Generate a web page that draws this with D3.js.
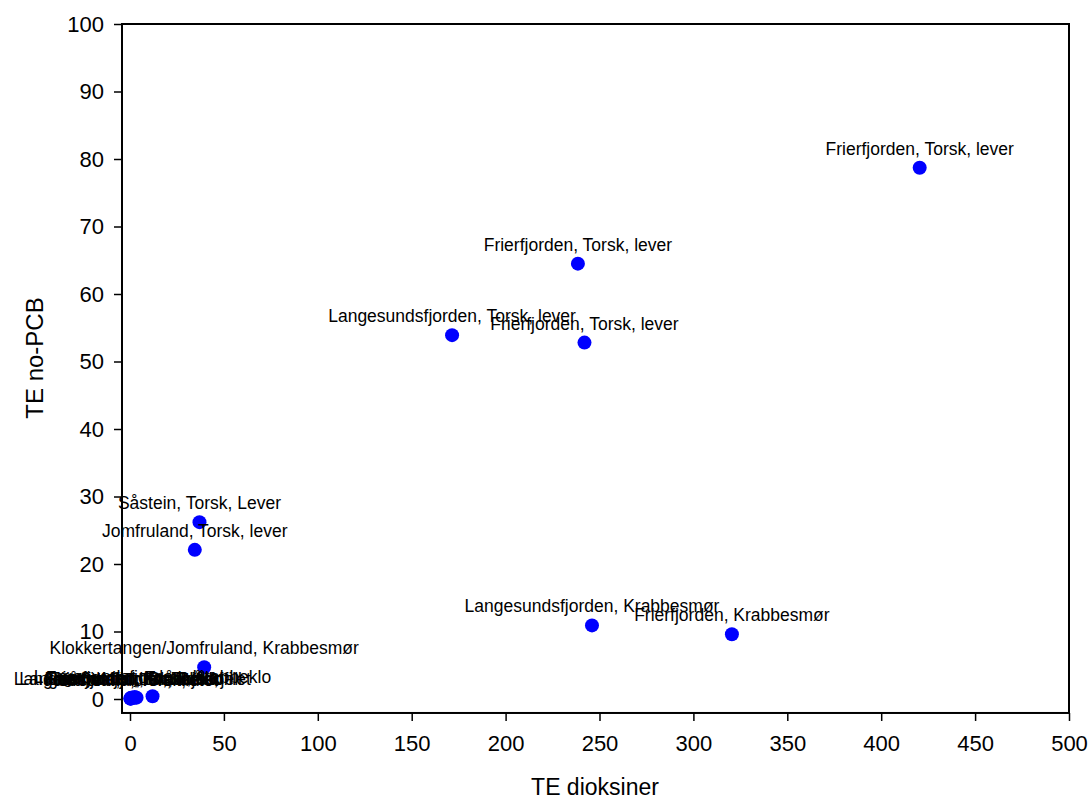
<!DOCTYPE html>
<html lang="no">
<head>
    <meta charset="UTF-8">
    <script src="https://d3js.org/d3.v7.min.js"></script>
    <style>
        body { margin: 0; background: #fff; }
        text { font-family: "Liberation Sans", Arial, sans-serif; fill: #000; }
    </style>
</head>
<body>
    <svg width="1089" height="800" id="scatter-plot"></svg>

    <script>
    // Data
    const stations = [
        "Frierfjorden, Torsk, lever",
        "Frierfjorden, Torsk, lever",
        "Frierfjorden, Torsk, lever",
        "Langesundsfjorden, Torsk, lever",
        "Såstein, Torsk, Lever",
        "Jomfruland, Torsk, lever",
        "Langesundsfjorden, Krabbesmør",
        "Frierfjorden, Krabbesmør",
        "Klokkertangen/Jomfruland, Krabbesmør",
        "Langesundsfjorden, Blåskjell",
        "Frierfjorden, Blåskjell",
        "Såstein, Torsk, filet",
        "Jomfruland, Torsk, filet",
        "Langesundsfjorden, Torsk, filet",
        "Frierfjorden, Torsk, filet",
        "Jomfruland, Krabbeklo",
        "Frierfjorden, Krabbeklo",
        "Langesundsfjorden, Krabbeklo"
    ];
    const teDioksiner = [420.5, 238.5, 242, 171.5, 37, 34.5, 246, 320.5, 39.5,
                         0.3, 0.6, 0.2, 0.4, 1.2, 2.5, 3.5, 1.8, 12];
    const teNoPCB = [78.7, 64.5, 52.8, 53.9, 26.2, 22.1, 10.9, 9.6, 4.7,
                     0.1, 0.2, 0.05, 0.05, 0.2, 0.3, 0.2, 0.15, 0.4];

    const xTicks = [0, 50, 100, 150, 200, 250, 300, 350, 400, 450, 500];
    const yTicks = [0, 10, 20, 30, 40, 50, 60, 70, 80, 90, 100];

    const data = stations.map((s, i) => ({ name: s, x: teDioksiner[i], y: teNoPCB[i] }));

    const svg = d3.select("#scatter-plot");

    // scales: value 0 sits a bit inside the frame on both axes
    const xScale = d3.scaleLinear().domain([0, 500]).range([130, 1069]);
    const yScale = d3.scaleLinear().domain([0, 100]).range([699, 24]);
    const frame = { left: xScale(-4.26), right: xScale(500), top: yScale(100), bottom: yScale(-2.07) };

    // plot frame
    svg.append("rect")
        .attr("x", frame.left)
        .attr("y", frame.top)
        .attr("width", frame.right - frame.left)
        .attr("height", frame.bottom - frame.top)
        .attr("fill", "none")
        .attr("stroke", "#000")
        .attr("stroke-width", 2);

    // x axis
    const xAxis = svg.append("g")
        .attr("transform", "translate(0," + frame.bottom + ")")
        .call(d3.axisBottom(xScale).tickValues(xTicks).tickSize(8).tickPadding(14));
    xAxis.select(".domain").remove();
    xAxis.selectAll("line").attr("stroke-width", 1.5);
    xAxis.selectAll("text").style("font-size", "22px").attr("font-family", null);

    // y axis
    const yAxis = svg.append("g")
        .attr("transform", "translate(" + frame.left + ",0)")
        .call(d3.axisLeft(yScale).tickValues(yTicks).tickSize(8).tickPadding(10));
    yAxis.select(".domain").remove();
    yAxis.selectAll("line").attr("stroke-width", 1.5);
    yAxis.selectAll("text").style("font-size", "22px").attr("font-family", null);

    // points
    svg.selectAll("circle")
        .data(data)
        .enter().append("circle")
        .attr("cx", d => xScale(d.x))
        .attr("cy", d => yScale(d.y))
        .attr("r", 7)
        .attr("fill", "#0000ff");

    // point labels
    svg.selectAll(".pt-label")
        .data(data)
        .enter().append("text")
        .attr("class", "pt-label")
        .attr("x", d => xScale(d.x))
        .attr("y", d => yScale(d.y) - 13)
        .style("text-anchor", "middle")
        .style("font-size", "17.5px")
        .text(d => d.name);

    // axis titles
    svg.append("text")
        .attr("x", 595)
        .attr("y", 795)
        .style("text-anchor", "middle")
        .style("font-size", "23px")
        .text("TE dioksiner");

    svg.append("text")
        .attr("transform", "translate(43,358) rotate(-90)")
        .style("text-anchor", "middle")
        .style("font-size", "24px")
        .text("TE no-PCB");
    </script>
</body>
</html>
